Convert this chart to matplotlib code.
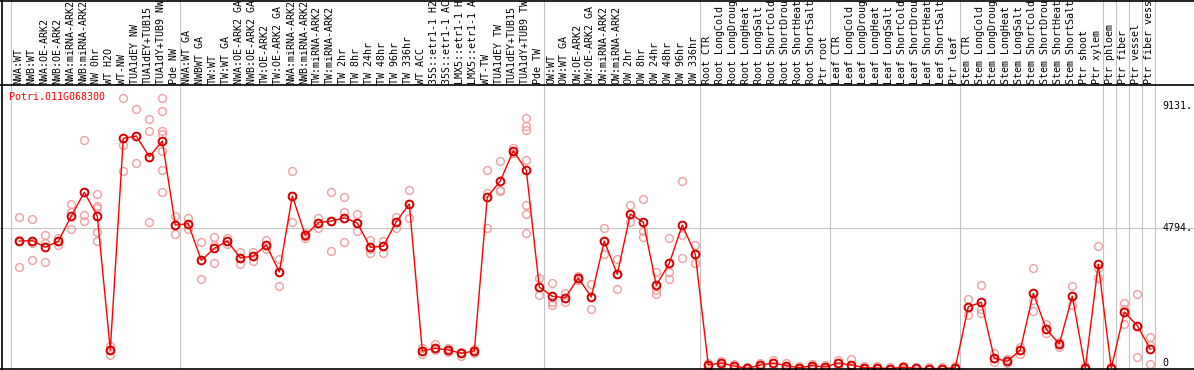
import numpy as np
import matplotlib
matplotlib.use("Agg")
import matplotlib.pyplot as plt
from matplotlib.transforms import blended_transform_factory
from matplotlib.lines import Line2D

# gene and sample names
gene = "Potri.011G068300"

samples = [
    "NWA:WT", "NWB:WT", "NWA:OE-ARK2", "NWB:OE-ARK2", "NWA:miRNA-ARK2",
    "NWB:miRNA-ARK2", "NW 0hr", "WT H2O", "WT-NW", "TUA1dEY NW",
    "TUA1dEY+TUB15", "TUA1dY+TUB9 NW", "Pde NW",
    "NWA:WT GA", "NWBWT GA", "TW:WT", "TW:WT GA", "NWA:OE-ARK2 GA",
    "NWB:OE-ARK2 GA", "TW:OE-ARK2", "TW:OE-ARK2 GA", "NWA:miRNA-ARK2",
    "NWB:miRNA-ARK2", "TW:miRNA-ARK2", "TW:miRNA-ARK2", "TW 2hr", "TW 8hr",
    "TW 24hr", "TW 48hr", "TW 96hr", "TW 336hr", "WT ACC", "35S::etr1-1 H2",
    "35S::etr1-1 AC", "LMX5::etr1-1 H", "LMX5::etr1-1 A", "WT-TW",
    "TUA1dEY TW", "TUA1dEY+TUB15", "TUA1dY+TUB9 TW", "Pde TW",
    "OW:WT", "OW:WT GA", "OW:OE-ARK2", "OW:OE-ARK2 GA", "OW:miRNA-ARK2",
    "OW:miRNA-ARK2", "OW 2hr", "OW 8hr", "OW 24hr", "OW 48hr", "OW 96hr",
    "OW 336hr",
    "Root CTR", "Root LongCold", "Root LongDroug", "Root LongHeat",
    "Root LongSalt", "Root ShortCold", "Root ShortDrou", "Root ShortHeat",
    "Root ShortSalt", "Ptr root",
    "Leaf CTR", "Leaf LongCold", "Leaf LongDroug", "Leaf LongHeat",
    "Leaf LongSalt", "Leaf ShortCold", "Leaf ShortDrou", "Leaf ShortHeat",
    "Leaf ShortSalt", "Ptr leaf",
    "Stem CTR", "Stem LongCold", "Stem LongDroug", "Stem LongHeat",
    "Stem LongSalt", "Stem ShortCold", "Stem ShortDrou", "Stem ShortHeat",
    "Stem ShortSalt", "Ptr shoot", "Ptr xylem",
    "Ptr phloem", "Ptr fiber", "Ptr vessel", "Ptr fiber vess",
]
group_sizes = [13, 28, 12, 10, 10, 11, 1, 1, 1, 1]

# mean expression per sample
means = [4359, 4369, 4154, 4349, 5214, 6024, 5214, 633, 7870, 7949,
         7241, 7778, 4906, 4951, 3699, 4110, 4359, 3778, 3846, 4223,
         3299, 5898, 4554, 4985, 5043, 5156, 4975, 4144, 4178, 5019,
         5624, 598, 691, 633, 520, 598, 5864, 6411, 7447, 6776,
         2786, 2469, 2421, 3094, 2445, 4359, 3221, 5282, 5009, 2845,
         3597, 4906, 3904, 120, 188, 85, 7, 120, 188, 96,
         27, 96, 51, 188, 120, 27, 17, 0, 41, 7,
         0, 0, 27, 2113, 2263, 349, 246, 633, 2571, 1340,
         838, 2469, 7, 3563, 7, 1932, 1463, 667]

# replicate values per sample
reps = [
    [5170, 4393, 3460], [5101, 4298, 3699], [4554, 4277, 3631], [4462, 4349, 4222],
    [5614, 5361, 4770], [7802, 5248, 5043], [5966, 5566, 5487, 4677, 4349],
    [759, 633, 462], [9238, 7631, 6742], [8872, 7949, 7016], [8520, 8120, 4999],
    [9238, 8804, 8120, 8028, 7436, 6787, 6024], [5224, 4906, 4588],
    [5156, 4951, 4770],
    [4315, 3699, 3050], [4486, 4222, 3607], [4462, 4359, 4257], [3973, 3778, 3563],
    [3973, 3846, 3686], [4393, 4223, 4075], [3744, 3299, 2821], [6742, 5898, 5019],
    [4633, 4530, 4462], [5135, 4985, 4793], [6034, 5043, 4028], [5864, 5361, 4325],
    [5282, 4975, 4701], [4393, 4086, 3959], [4369, 4188, 3959], [5190, 5019, 4793],
    [6093, 5624, 5135], [691, 598, 485], [827, 691, 633], [701, 633, 564],
    [574, 520, 438], [667, 598, 530], [6787, 5990, 4793], [7084, 6093, 6058],
    [7529, 7447, 7378], [8554, 8281, 8154, 7129, 5590, 5272, 4622],
    [3084, 2786, 2513],
    [2913, 2284, 2171], [2571, 2421, 2284], [3163, 3094, 3026], [2879, 2445, 2024],
    [4793, 4359, 3904], [3734, 3221, 2708], [5590, 5282, 4999], [5785, 4701, 4506],
    [3289, 2684, 2537], [4452, 3299, 3050], [6400, 4564, 3768], [4212, 3904, 3597],
    [190, 120, 50], [260, 188, 120], [150, 85, 20], [60, 7, 0], [190, 120, 50],
    [291, 188, 62], [178, 96, 17], [80, 27, 0], [160, 96, 30], [110, 51, 0],
    [280, 188, 85], [315, 120, 17], [80, 27, 0], [70, 17, 0], [40, 0, 0],
    [100, 41, 0], [60, 7, 0], [40, 0, 0], [50, 0, 0], [80, 27, 0],
    [2376, 2113, 1829], [2855, 2034, 1898], [540, 349, 212], [325, 246, 171],
    [745, 633, 496], [3436, 2342, 1956], [1521, 1340, 1224], [916, 838, 745],
    [2821, 2469, 2171], [85, 7, 0], [4178, 3436, 3084],
    [68, 7, 0], [2229, 2034, 1511], [2537, 1463, 383], [1067, 803, 144],
]
tick_values = [0, 4794, 9131]

# figure in pixels
W, H = 1194, 370
top_px, bot_px = 85, 369
col_w = 13.0
first_px = 19.3
zero_px = 368.5
units_per_px = 4794 / (zero_px - 228.3)

fig = plt.figure(figsize=(W / 100, H / 100), dpi=100)
ax = fig.add_axes([0, (H - bot_px) / H, 1, (bot_px - top_px) / H])
ax.set_xlim(-first_px / col_w, (W - first_px) / col_w)
ax.set_ylim(-(bot_px - zero_px) * units_per_px, (zero_px - top_px) * units_per_px)
ax.axis("off")

mono = "DejaVu Sans Mono"
fs = 7.2
grey = "#c4c4c4"
bt = blended_transform_factory(ax.transData, ax.transAxes)
top_axes = bot_px / (bot_px - top_px)

# group separators
bounds = np.cumsum([0] + group_sizes)
for b in bounds:
    xb = b - (first_px - 10.7) / col_w
    ax.plot([xb, xb], [0, top_axes + 0.01], color=grey, lw=0.8,
            transform=bt, clip_on=False, zorder=1)

ax.axhline(4794, color=grey, lw=0.8, zorder=1)

# frame lines
for y in [0.5, top_px, bot_px]:
    fig.add_artist(Line2D([0, 1], [1 - y / H, 1 - y / H], color="black", lw=1.2,
                          transform=fig.transFigure))
fig.add_artist(Line2D([1.5 / W, 1.5 / W], [0, 1], color="black", lw=1.2,
                      transform=fig.transFigure))

# sample labels
lab_y = (bot_px - 83.5) / (bot_px - top_px)
for i, s in enumerate(samples):
    ax.text(i - 0.08, lab_y, s, rotation=90, ha="center", va="bottom",
            fontsize=fs, family=mono, transform=bt, clip_on=False)

# replicates
x = np.arange(len(means))
rx = np.concatenate([[i] * len(r) for i, r in enumerate(reps)])
ry = np.concatenate(reps)
ax.plot(rx, ry, "o", ms=5.6, mfc="none", mec="#f0a0a0", mew=1.0,
        clip_on=False, zorder=2)

# means
ax.plot(x, means, "-", color="red", lw=1.0, zorder=3, clip_on=False)
ax.plot(x, means, "o", ms=5.6, mfc="none", mec="#d40000", mew=1.4,
        zorder=4, clip_on=False)

# gene name
ax.text(9.3 / W * (W / col_w) - first_px / col_w, (bot_px - 97) / (bot_px - top_px),
        gene, color="red", fontsize=fs, family=mono, ha="left", va="center",
        transform=bt)

# value labels on the right
lx = (1162.5 - first_px) / col_w
for v, va in zip(tick_values, ["bottom", "center", "top"]):
    ax.text(lx, v, f"{v}." if v else "0", fontsize=fs, family=mono,
            ha="left", va=va, clip_on=False)

fig.savefig("out.png", dpi=100)
